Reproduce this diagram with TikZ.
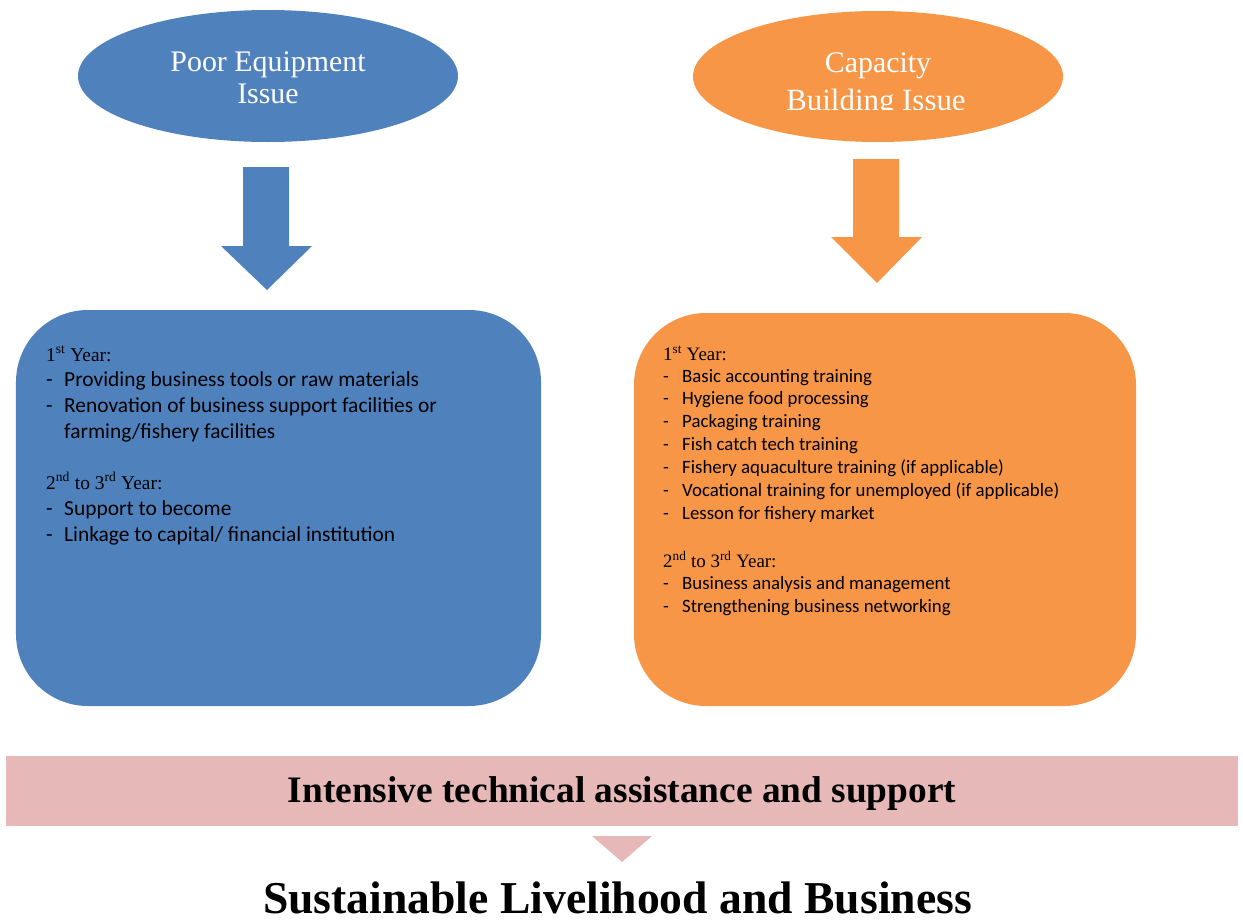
\documentclass[tikz,border=0pt]{standalone}
\usepackage{fontspec}
\setmainfont{Liberation Serif}
\newfontfamily\carl{Carlito}
\usetikzlibrary{shapes.geometric}
\definecolor{eqblue}{HTML}{4F81BD}
\definecolor{caporange}{HTML}{F79646}
\definecolor{tapink}{HTML}{E6B8B7}
\tikzset{
  issue/.style={ellipse, inner sep=0, draw=none},
  etext/.style={anchor=base, inner sep=0, text=white, font=\fontsize{30}{30}\selectfont},
  panel/.style={rectangle, rounded corners=72bp, inner sep=0, draw=none},
  yrA/.style={anchor=base west, inner sep=0, font=\fontsize{19.5}{19.5}\selectfont},
  itA/.style={anchor=base west, inner sep=0, font=\carl\fontsize{21.5}{21.5}\selectfont},
  yrB/.style={anchor=base west, inner sep=0, font=\fontsize{19}{19}\selectfont},
  itB/.style={anchor=base west, inner sep=0, font=\carl\fontsize{18.9}{18.9}\selectfont},
}
\begin{document}
\begin{tikzpicture}[x=1bp,y=-1bp]
\useasboundingbox (0,0) rectangle (1243,922);

% ellipses
\node[issue, fill=eqblue, minimum width=380bp, minimum height=132bp] (pe) at (268,76) {};
\node[etext] (pe1) at (268,71) {Poor Equipment};
\node[etext] (pe2) at (268,103) {Issue};

\node[issue, fill=caporange, minimum width=370bp, minimum height=131bp] (cb) at (878,76.5) {};
\node[etext] (cb1) at (878,72) {Capacity};
\begin{scope}
  \clip (690,0) rectangle (1070,109.5);
  \node[etext, font=\fontsize{31}{31}\selectfont] (cb2) at (876,110) {Building Issue};
\end{scope}

% block arrows
\fill[eqblue] (243,167) -- (289,167) -- (289,246) -- (312,246) -- (267,290) -- (221,246) -- (243,246) -- cycle;
\fill[caporange] (853,159) -- (899,159) -- (899,237) -- (922,237) -- (877,283) -- (831,237) -- (853,237) -- cycle;

% panels
\node[panel, fill=eqblue, minimum width=525bp, minimum height=396bp] (pebox) at (278.5,508) {};
\node[panel, fill=caporange, minimum width=502bp, minimum height=393bp] (cbbox) at (885,509.5) {};

% blue panel text
\node[yrA] (a0) at (46,361) {1\textsuperscript{st} Year:};
\node[itA] (a1d) at (46,386) {-};
\node[itA] (a1) at (64,386) {Providing business tools or raw materials};
\node[itA] (a2d) at (46,412) {-};
\node[itA] (a2) at (64,412) {Renovation of business support facilities or};
\node[itA] (a3) at (64,438) {farming/fishery facilities};
\node[yrA] (a4) at (46,489) {2\textsuperscript{nd} to 3\textsuperscript{rd} Year:};
\node[itA] (a5d) at (46,515) {-};
\node[itA] (a5) at (64,515) {Support to become};
\node[itA] (a6d) at (46,541) {-};
\node[itA] (a6) at (64,541) {Linkage to capital/ financial institution};

% orange panel text
\node[yrB] (b0) at (663,360) {1\textsuperscript{st} Year:};
\foreach \n/\y/\t in {1/382/Basic accounting training,
                      2/404/Hygiene food processing,
                      3/427/Packaging training,
                      4/450/Fish catch tech training,
                      5/473/Fishery aquaculture training (if applicable),
                      6/496/Vocational training for unemployed (if applicable),
                      7/519/Lesson for fishery market,
                      8/589/Business analysis and management,
                      9/612/Strengthening business networking}{
  \node[itB] (bd\n) at (663,\y) {-};
  \node[itB] (b\n) at (682,\y) {\t};
}
\node[yrB] (b10) at (663,567) {2\textsuperscript{nd} to 3\textsuperscript{rd} Year:};

% bottom
\node[rectangle, fill=tapink, inner sep=0, minimum width=1232bp, minimum height=70bp] (band) at (622,790.5) {};
\node[anchor=base, inner sep=0, font=\bfseries\fontsize{37.5}{37.5}\selectfont] (bandtxt) at (622,802) {Intensive technical assistance and support};
\fill[tapink] (592,836) -- (652,836) -- (622,862) -- cycle;
\node[anchor=base, inner sep=0, font=\bfseries\fontsize{45.8}{45.8}\selectfont] (goal) at (617.5,913) {Sustainable Livelihood and Business};
\end{tikzpicture}
\end{document}
